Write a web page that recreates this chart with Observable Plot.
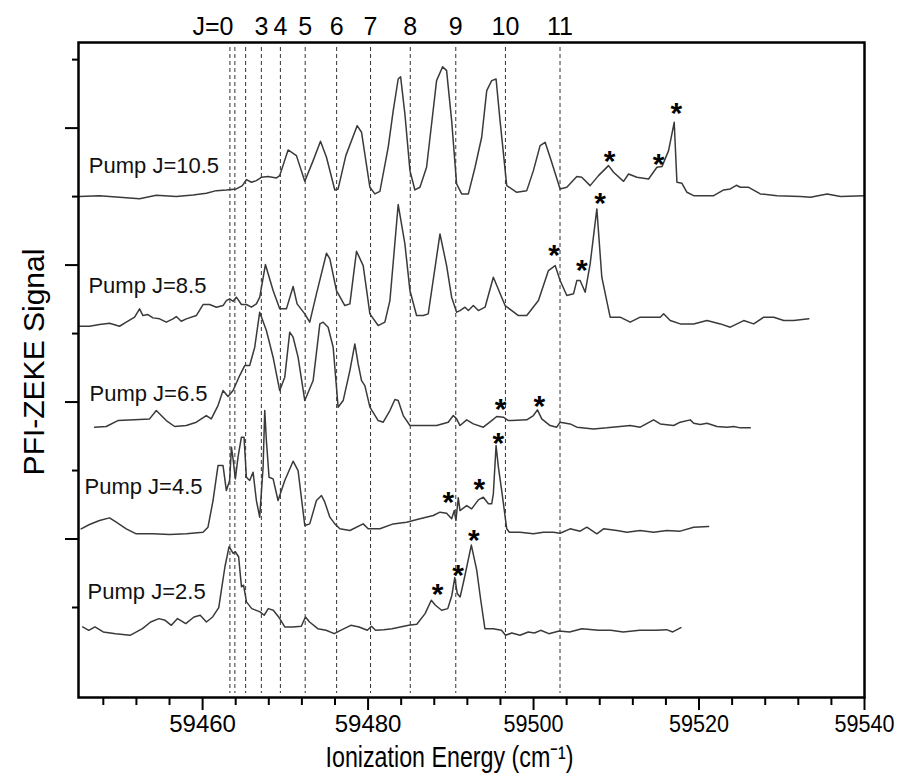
<!DOCTYPE html>
<html><head><meta charset="utf-8">
<script src="https://cdn.jsdelivr.net/npm/d3@7"></script>
<script src="https://cdn.jsdelivr.net/npm/@observablehq/plot@0.6"></script>
<style>body{margin:0;background:#fff} svg{display:block}</style>
</head><body><div id="chart"></div>
<script>
// Rotational line positions (cm^-1) and their J labels
const lineE = [59463.3, 59463.9, 59465.2, 59467.1, 59469.4, 59472.4, 59476.2, 59480.3, 59485.1, 59490.6, 59496.6, 59503.2];
const lineJ = ["J=0", "", "", "3", "4", "5", "6", "7", "8", "9", "10", "11"];

// Axis ticks
const majorX = [59460, 59480, 59500, 59520, 59540];
const minorX = [59448, 59452, 59456, 59464, 59468, 59472, 59476, 59484, 59488, 59492, 59496, 59504, 59508, 59512, 59516, 59524, 59528, 59532, 59536];
const majorY = [20, 40, 60, 80];
const minorY = [10, 30, 50, 70, 90];

// Pump J = 10.5 trace
const e105 = [59445.12,59447.54,59449.96,59452.38,59454.40,59456.82,59458.84,59460.45,59461.66,59462.87,59464.08,59464.81,59465.29,59465.9,59466.5,59467.1,59467.91,59468.92,59469.32,59470.33,59471.34,59472.35,59473.36,59474.25,59474.97,59475.98,59476.38,59477.31,59478.68,59479.21,59480.22,59480.82,59481.43,59482.43,59483.04,59483.64,59483.93,59484.45,59485.06,59485.66,59486.27,59487.07,59488.28,59489.01,59489.49,59490.10,59490.7,59491.31,59492.12,59492.93,59493.73,59494.34,59494.94,59495.47,59495.95,59496.76,59497.97,59499.18,59499.98,59500.79,59501.4,59502.0,59503.21,59504.02,59505.23,59505.83,59506.84,59507.85,59509.06,59509.67,59510.88,59511.48,59512.49,59513.9,59514.91,59515.52,59516.32,59517.0,59517.33,59517.94,59518.54,59519.35,59521.77,59522.98,59523.78,59524.51,59525.0,59526.0,59527.41,59529.43,59532.26,59533.47,59535.48,59537.1,59540.0];
const s105 = [70.0,70.14,69.9,69.7,70.19,70.0,70.24,70.48,70.87,70.97,71.12,71.6,72.48,72.09,72.33,72.82,72.92,72.72,73.06,76.81,75.98,72.23,75.25,78.07,75.74,70.97,71.12,75.98,80.36,79.39,71.36,70.39,70.77,77.2,82.55,87.17,87.51,82.06,73.79,70.97,71.36,74.28,86.93,88.97,88.39,81.09,71.85,70.39,70.39,74.28,78.66,85.47,86.93,87.17,81.09,71.6,70.63,70.87,73.79,77.44,77.93,75.74,71.12,71.36,72.92,72.82,71.6,73.06,74.52,73.55,72.23,73.3,72.82,72.57,74.28,74.38,76.71,80.85,72.09,71.94,70.63,70.14,70.14,70.97,71.12,71.65,71.36,71.36,70.39,70.14,70.0,69.9,70.39,70.0,70.14];

// Pump J = 8.5 trace
const e85 = [59445.12,59446.33,59447.54,59448.75,59449.96,59450.77,59451.78,59452.38,59452.79,59453.39,59454.0,59454.8,59455.61,59456.42,59456.82,59457.42,59458.03,59459.24,59460.05,59460.85,59461.66,59462.47,59462.87,59463.27,59463.68,59464.08,59464.69,59465.29,59465.9,59466.5,59466.91,59467.59,59468.52,59469.32,59470.13,59470.94,59471.42,59472.35,59472.95,59473.76,59474.97,59475.38,59476.18,59477.19,59477.8,59478.6,59479.41,59480.22,59481.22,59482.03,59482.64,59483.64,59484.45,59485.06,59485.86,59486.67,59487.27,59488.69,59489.49,59490.1,59490.7,59491.11,59491.72,59492.12,59492.72,59493.33,59494.14,59495.14,59496.56,59498.17,59499.18,59500.59,59501.8,59502.61,59503.21,59504.02,59504.83,59505.23,59505.63,59506.24,59506.84,59507.65,59508.25,59509.26,59510.47,59511.68,59512.89,59514.3,59515.31,59515.72,59516.52,59517.73,59519.35,59520.96,59522.58,59523.78,59525.4,59526.61,59527.82,59529.03,59530.24,59531.45,59533.26];
const s85 = [51.07,51.07,51.32,51.51,51.07,51.66,52.39,53.61,52.63,52.78,52.29,52.15,51.66,52.15,52.49,51.8,52.15,52.63,54.24,54.24,53.85,54.09,54.82,55.07,54.72,55.31,54.24,54.24,53.85,54.34,55.31,60.08,56.28,53.61,53.61,56.87,54.34,52.88,51.66,55.8,61.73,60.9,56.28,54.09,54.34,62.02,59.93,52.88,51.17,51.66,54.82,68.84,63.09,56.28,52.63,52.63,52.88,64.55,59.93,55.31,53.12,53.36,53.85,53.36,54.09,53.36,53.85,58.23,54.09,52.63,52.63,54.82,59.2,59.93,57.74,55.55,55.8,57.74,57.74,56.04,60.17,68.2,58.23,52.39,52.39,51.66,52.39,52.39,52.39,52.88,51.9,51.41,51.41,51.9,51.41,50.93,51.9,51.41,52.39,52.39,51.9,51.9,52.15];

// Pump J = 6.5 trace
const e65 = [59446.94,59448.35,59449.76,59452.38,59453.59,59454.4,59455.61,59456.62,59458.03,59459.24,59460.45,59461.05,59461.86,59462.47,59463.07,59463.68,59464.48,59465.09,59465.69,59466.3,59466.9,59467.71,59468.52,59469.32,59469.93,59470.53,59470.94,59471.54,59472.35,59473.36,59474.17,59474.57,59475.17,59475.78,59476.38,59476.99,59477.8,59478.4,59478.8,59479.21,59479.61,59480.22,59481.22,59481.83,59482.64,59483.24,59483.64,59484.25,59485.06,59486.67,59488.28,59489.69,59490.3,59490.7,59491.11,59491.92,59492.72,59493.93,59494.94,59495.55,59496.35,59496.96,59497.36,59499.18,59499.98,59500.47,59500.99,59502.0,59502.81,59503.21,59504.42,59505.23,59507.25,59508.86,59510.47,59511.68,59512.89,59514.51,59515.31,59516.93,59517.73,59518.94,59519.35,59520.15,59520.96,59522.17,59523.38,59524.19,59525.0,59526.2];
const s65 = [36.33,36.43,37.3,37.45,37.54,38.76,37.3,36.43,36.57,37.06,38.03,37.54,39.49,41.68,40.81,41.68,43.87,45.33,45.33,48.01,53.12,50.44,46.55,41.68,43.63,50.2,49.47,46.55,40.22,43.14,51.41,51.66,50.93,48.01,39.25,40.22,44.6,48.49,45.57,43.14,42.41,39.25,37.3,37.06,38.76,40.37,40.22,38.03,36.57,36.57,36.57,37.06,38.03,37.54,36.57,37.4,36.81,36.33,37.3,37.89,37.79,37.3,37.3,37.4,38.03,38.86,37.54,36.57,36.33,37.06,36.81,36.33,36.08,36.23,36.43,36.57,36.33,37.4,36.81,36.57,37.06,37.4,36.91,36.72,36.91,36.43,36.33,36.43,36.23,36.23];

// Pump J = 4.5 trace
const e45 = [59445.32,59446.33,59447.54,59448.75,59449.56,59450.77,59451.98,59453.99,59456.01,59458.03,59460.05,59460.65,59461.26,59461.86,59462.47,59462.87,59463.27,59463.48,59463.68,59463.96,59464.28,59464.69,59465.01,59465.29,59465.69,59466.1,59466.5,59466.9,59467.31,59467.51,59467.71,59468.03,59468.52,59469.12,59469.93,59470.94,59471.54,59472.35,59472.95,59473.76,59474.37,59474.77,59475.38,59475.98,59476.59,59477.8,59479.41,59480.01,59481.43,59483.04,59484.65,59486.27,59487.88,59488.69,59489.49,59490.1,59490.42,59490.62,59490.9,59491.11,59491.92,59492.52,59493.33,59493.93,59494.54,59494.94,59495.14,59495.47,59495.75,59496.15,59496.76,59497.08,59498.37,59499.98,59501.19,59502.4,59503.21,59504.42,59505.63,59506.44,59507.65,59508.46,59510.07,59511.28,59512.89,59514.51,59516.12,59517.73,59519.35,59521.16];
const s45 = [21.49,22.12,22.7,23.09,22.46,21.49,20.76,20.76,20.66,20.76,21.0,21.73,25.62,30.73,30.73,27.08,28.54,33.41,31.7,28.79,31.95,34.87,34.87,29.03,28.54,29.76,25.62,23.19,30.49,38.76,34.38,29.03,28.79,25.62,28.54,31.36,30.0,21.97,22.21,25.62,26.35,25.38,23.19,22.21,21.49,21.24,22.21,21.49,21.49,22.21,22.46,22.95,23.43,23.92,23.77,22.95,24.16,22.7,26.01,24.16,24.89,24.4,25.72,26.11,25.14,25.14,26.6,33.65,30.49,27.08,21.49,21.0,21.0,20.76,21.0,21.0,20.85,21.49,21.15,21.73,20.76,21.49,21.24,21.0,21.24,21.0,21.24,21.15,21.73,21.83];

// Pump J = 2.5 trace
const e25 = [59445.5,59446.24,59446.99,59447.99,59449.48,59451.23,59452.73,59453.72,59454.72,59455.47,59456.22,59456.97,59457.96,59458.96,59459.71,59460.46,59461.21,59461.95,59462.7,59463.2,59463.7,59463.95,59464.35,59464.7,59464.95,59465.3,59465.94,59466.94,59467.44,59467.94,59468.54,59469.19,59469.93,59470.93,59471.93,59472.43,59472.93,59473.92,59474.92,59475.92,59476.67,59477.91,59478.91,59479.91,59480.41,59480.91,59481.9,59482.9,59483.9,59484.9,59485.89,59486.89,59487.64,59488.14,59488.89,59489.63,59490.13,59490.48,59490.78,59491.13,59491.63,59492.48,59493.13,59493.62,59494.12,59495.12,59496.12,59496.62,59497.37,59498.36,59499.36,59500.11,59500.86,59501.85,59503.1,59504.35,59505.84,59507.84,59509.33,59510.83,59512.83,59514.82,59516.07,59516.82,59517.81];
const s25 = [7.16,6.67,7.16,6.43,6.18,5.94,6.91,7.89,8.38,8.13,7.4,8.38,7.65,8.62,8.87,7.89,8.62,9.99,15.95,18.88,17.9,18.14,17.41,13.02,13.26,10.82,9.84,9.36,8.87,9.84,9.6,8.62,7.16,7.16,7.26,8.62,7.89,6.91,6.67,6.18,6.67,7.4,7.16,6.67,7.26,6.67,6.77,6.91,7.16,7.4,7.55,9.11,11.06,10.33,9.6,9.84,11.8,14.38,12.04,11.55,14.24,19.12,15.46,11.06,6.91,6.91,6.67,5.94,6.28,5.94,6.43,6.28,6.67,6.18,6.57,6.43,6.91,6.67,6.67,6.43,6.67,6.67,6.77,6.43,7.06];

// Asterisk annotations (energy, signal)
const starE = [59509.18, 59515.11, 59517.25, 59502.49, 59505.83, 59508.05, 59496.03, 59500.71, 59489.7, 59493.45, 59495.75, 59488.39, 59490.88, 59492.78];
const starV = [76.47, 76.08, 83.52, 62.7, 60.52, 70.3, 40.22, 40.61, 26.6, 28.54, 35.35, 13.26, 15.95, 21.07];

// Trace labels
const pumpText = ["Pump J=10.5", "Pump J=8.5", "Pump J=6.5", "Pump J=4.5", "Pump J=2.5"];
const pumpE = [59446.25, 59446.2, 59446.33, 59445.73, 59446.1];
const pumpV = [74.5, 57.0, 41.2, 27.56, 12.3];

const traces = [[e105, s105], [e85, s85], [e65, s65], [e45, s45], [e25, s25]];
const font = "'Liberation Sans', Arial, Helvetica, sans-serif";

const chart = Plot.plot({
  width: 906, height: 783,
  marginTop: 42, marginBottom: 86, marginLeft: 78, marginRight: 42,
  x: {domain: [59445, 59540]},
  y: {domain: [-3.14, 92.5]},
  style: {fontFamily: font, background: "white", color: "black"},
  marks: [
    Plot.ruleX(lineE, {x: d => d, stroke: "#333", strokeWidth: 1, strokeDasharray: "4,3", insetTop: 5, insetBottom: 4}),
    ...traces.map(([e, s]) => Plot.line(e.map((x, i) => ({x, y: s[i]})), {x: "x", y: "y", stroke: "#3a3a3a", strokeWidth: 1.5})),
    Plot.text(starE.map((x, i) => ({x, y: starV[i]})), {x: "x", y: "y", text: () => "*", fontSize: 30, fontWeight: "bold", dy: 9}),
    Plot.text(pumpText.map((t, i) => ({t, x: pumpE[i], y: pumpV[i]})), {x: "x", y: "y", text: "t", textAnchor: "start", fontSize: 22, fill: "#111"}),
    Plot.text([0], {x: i => lineE[i], text: i => lineJ[i], frameAnchor: "top", lineAnchor: "middle", dy: -16, dx: 3.5, textAnchor: "end", fontSize: 25}),
    Plot.text(lineJ.map((t, i) => ({t, x: lineE[i]})).filter((d, i) => i > 0 && d.t), {x: "x", text: "t", frameAnchor: "top", lineAnchor: "middle", dy: -16, fontSize: 25}),
    Plot.frame({stroke: "black", strokeWidth: 2.5}),
    Plot.axisX(minorX, {tickSize: 8, tickFormat: () => "", strokeWidth: 2, label: null}),
    Plot.axisX(majorX, {tickSize: 13, tickPadding: 4, fontSize: 24, tickFormat: d => String(d), strokeWidth: 2, label: null}),
    Plot.axisY(minorY, {tickSize: 6, tickFormat: () => "", strokeWidth: 2, label: null}),
    Plot.axisY(majorY, {tickSize: 13, tickFormat: () => "", strokeWidth: 2, label: null}),
    Plot.text(["PFI-ZEKE Signal"], {text: d => d, frameAnchor: "left", textAnchor: "middle", lineAnchor: "middle", dx: -44, dy: -8, rotate: -90, fontSize: 30}),
    Plot.text(["Ionization Energy (cm\u207B\u00B9)"], {text: d => d, frameAnchor: "bottom", textAnchor: "middle", lineAnchor: "middle", dx: -22, dy: 60, fontSize: 30})
  ]
});
document.getElementById("chart").appendChild(chart);

const svg = d3.select(chart);
// condensed lettering like the original
svg.selectAll("text").filter(function() { return this.textContent === "Ionization Energy (cm\u207B\u00B9)"; })
  .attr("textLength", 248).attr("lengthAdjust", "spacingAndGlyphs");
svg.selectAll("text").filter(function() { return /^595\d0$/.test(this.textContent); })
  .attr("textLength", 60).attr("lengthAdjust", "spacingAndGlyphs");
</script></body></html>
